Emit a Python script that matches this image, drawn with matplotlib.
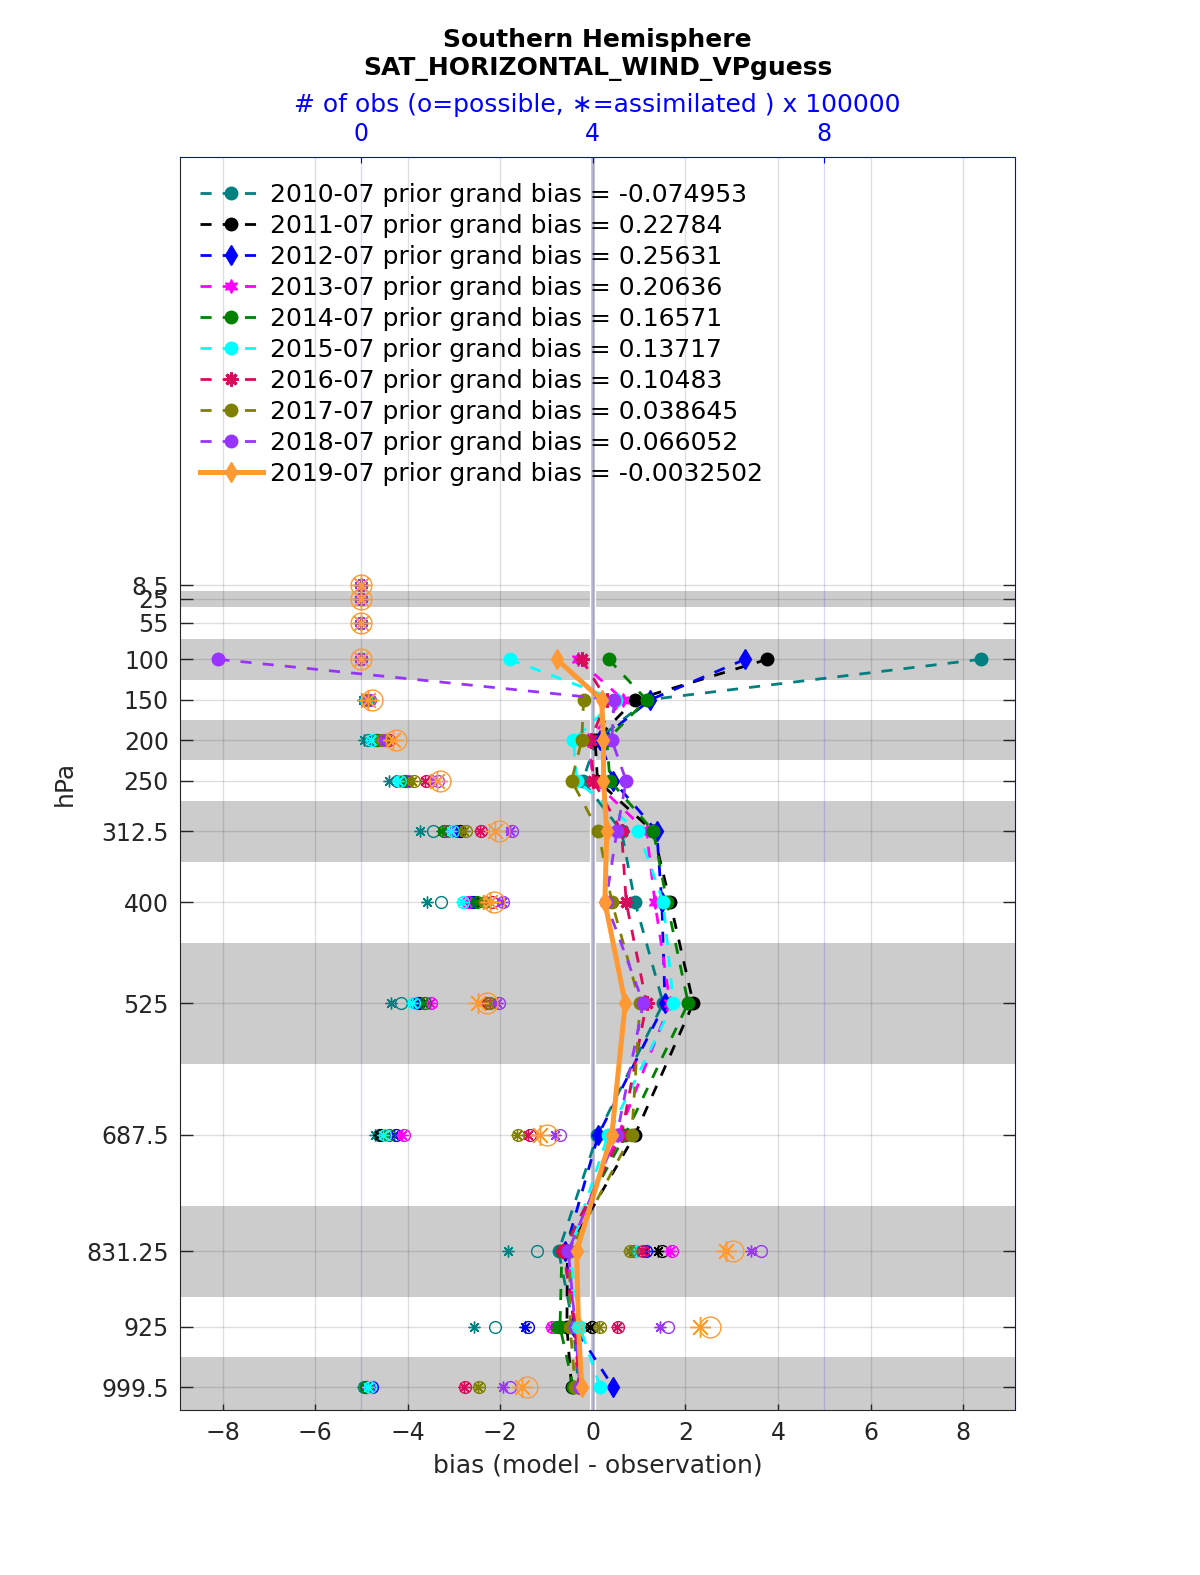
"""
Profile of prior bias (model - observation) for satellite horizontal winds,
Southern Hemisphere, July 2010-2019.  Bottom axis = bias, top axis = obs count.
"""
import numpy as np
import matplotlib
matplotlib.use("Agg")
import matplotlib.pyplot as plt

nan = np.nan

# pressure levels (hPa) and layer edges used for the shading
LEVELS = [8.5, 25, 55, 100, 150, 200, 250, 312.5, 400, 525, 687.5, 831.25, 925, 999.5]
EDGES = [2, 15, 35, 75, 125, 175, 225, 275, 350, 450, 600, 775, 887.5, 962.5, 1036.5]

YEARS = ["2010-07", "2011-07", "2012-07", "2013-07", "2014-07",
         "2015-07", "2016-07", "2017-07", "2018-07", "2019-07"]
GRAND = ["-0.074953", "0.22784", "0.25631", "0.20636", "0.16571",
         "0.13717", "0.10483", "0.038645", "0.066052", "-0.0032502"]

# mean bias per level
bias_2010 = [nan, nan, nan, 8.38, 1.20, 0.08, -0.22, 0.62, 0.91, 1.52, 0.10, -0.74, -0.42, -0.31]
bias_2011 = [nan, nan, nan, 3.77, 0.91, 0.05, 0.10, 1.30, 1.67, 2.17, 0.91, -0.55, -0.56, -0.46]
bias_2012 = [nan, nan, nan, 3.29, 1.24, 0.15, 0.44, 1.38, 1.49, 1.56, 0.12, -0.60, -0.40, 0.44]
bias_2013 = [nan, nan, nan, -0.33, 0.66, -0.10, 0.01, 1.16, 1.34, 1.67, 0.55, -0.55, -0.38, -0.30]
bias_2014 = [nan, nan, nan, 0.34, 1.16, 0.30, 0.37, 1.31, 1.60, 2.06, 0.70, -0.67, -0.71, -0.42]
bias_2015 = [nan, nan, nan, -1.80, 0.50, -0.42, -0.35, 0.98, 1.52, 1.74, 0.33, -0.50, -0.28, 0.16]
bias_2016 = [nan, nan, nan, -0.24, 0.30, -0.05, 0.01, 0.62, 0.72, 1.16, 0.62, -0.64, -0.38, -0.30]
bias_2017 = [nan, nan, nan, nan, -0.20, -0.24, -0.46, 0.12, 0.41, 1.02, 0.84, -0.50, -0.49, -0.38]
bias_2018 = [nan, nan, nan, -8.09, 0.46, 0.41, 0.72, 0.52, 0.28, 1.09, 0.52, -0.53, -0.38, -0.28]
bias_2019 = [nan, nan, nan, -0.78, 0.19, 0.23, 0.23, 0.30, 0.26, 0.70, 0.41, -0.35, -0.31, -0.24]

# number of obs (x 100000): possible / assimilated
poss_2010 = [0, 0, 0, 0, .06, .12, .62, 1.23, 1.37, .68, .30, 3.03, 2.31, .05]
asim_2010 = [0, 0, 0, 0, .02, .05, .48, 1.01, 1.13, .51, .24, 2.54, 1.95, .03]
poss_2011 = [0, 0, 0, 0, .08, .25, .78, 1.70, 1.95, 1.00, .34, 5.19, 3.98, .10]
asim_2011 = [0, 0, 0, 0, .06, .22, .76, 1.68, 1.93, .98, .30, 5.13, 3.95, .08]
poss_2012 = [0, 0, 0, 0, .09, .22, .75, 1.62, 1.90, .95, .60, 4.92, 2.88, .18]
asim_2012 = [0, 0, 0, 0, .07, .20, .72, 1.60, 1.88, .93, .57, 4.90, 2.83, .16]
poss_2013 = [0, 0, 0, 0, .10, .30, .80, 1.50, 1.85, 1.20, .73, 5.36, 3.29, .12]
asim_2013 = [0, 0, 0, 0, .08, .28, .78, 1.48, 1.83, 1.18, .70, 5.33, 3.27, .10]
poss_2014 = [0, 0, 0, 0, .10, .28, .72, 1.42, 2.00, 1.10, .48, 4.72, 3.38, .08]
asim_2014 = [0, 0, 0, 0, .08, .26, .70, 1.40, 1.98, 1.07, .45, 4.69, 3.36, .06]
poss_2015 = [0, 0, 0, 0, .08, .18, .66, 1.58, 1.76, .90, .40, 4.76, 3.75, .15]
asim_2015 = [0, 0, 0, 0, .06, .16, .64, 1.55, 1.73, .87, .37, 4.74, 3.72, .12]
poss_2016 = [0, 0, 0, 0, .12, .47, 1.12, 2.07, 2.25, 2.18, 2.91, 4.87, 4.44, 1.79]
asim_2016 = [0, 0, 0, 0, .10, .45, 1.10, 2.05, 2.23, 2.16, 2.88, 4.85, 4.42, 1.77]
poss_2017 = [0, 0, 0, 0, .12, .35, .90, 1.80, 2.14, 2.22, 2.71, 4.64, 4.12, 2.04]
asim_2017 = [0, 0, 0, 0, .10, .33, .88, 1.78, 2.12, 2.20, 2.69, 4.62, 4.10, 2.02]
poss_2018 = [0, 0, 0, 0, .14, .41, 1.33, 2.61, 2.45, 2.37, 3.43, 6.90, 5.30, 2.56]
asim_2018 = [0, 0, 0, 0, .12, .39, 1.24, 2.56, 2.43, 2.35, 3.35, 6.74, 5.16, 2.45]
poss_2019 = [0, 0, 0, 0, .18, .60, 1.36, 2.37, 2.30, 2.17, 3.20, 6.43, 6.02, 2.86]
asim_2019 = [0, 0, 0, 0, .12, .55, 1.30, 2.31, 2.22, 2.02, 3.09, 6.31, 5.85, 2.77]

BIAS = [bias_2010, bias_2011, bias_2012, bias_2013, bias_2014,
        bias_2015, bias_2016, bias_2017, bias_2018, bias_2019]
POSS = [poss_2010, poss_2011, poss_2012, poss_2013, poss_2014,
        poss_2015, poss_2016, poss_2017, poss_2018, poss_2019]
ASIM = [asim_2010, asim_2011, asim_2012, asim_2013, asim_2014,
        asim_2015, asim_2016, asim_2017, asim_2018, asim_2019]

COLORS = ["#008080", "#000000", "#0000ff", "#ff00ff", "#008000",
          "#00ffff", "#dc0a5a", "#808000", "#9933ff", "#ff9933"]
MARKERS = ["o", "o", "d", (6, 1, 0), "o", "o", (8, 2, 0), "o", "o", "d"]

XLIM = (-8.92, 9.12)
YLIM = (1027.6, -520.7)
FS = 18        # labels, legend, title
FS_TICK = 17
TXT = "#262626"
ASTER = (8, 2, 0)


def bias_to_obs(b):
    return (b + 5.0) * 0.8


def main():
    plt.rcParams["font.family"] = ["DejaVu Sans"]
    fig = plt.figure(figsize=(12, 15.75), dpi=100)
    ax = fig.add_axes([0.15, 0.1048, 0.6958, 0.7955])

    # alternating layer shading
    for k in range(1, len(LEVELS), 2):
        ax.axhspan(EDGES[k], EDGES[k + 1], color="#cccccc", lw=0, zorder=0)

    ax.set_xlim(*XLIM)
    ax.set_ylim(*YLIM)
    ax.set_axisbelow(True)
    ax.grid(True, color=TXT, alpha=0.15, lw=1)
    ax.set_xticks(np.arange(-8, 9, 2))
    ax.set_yticks(LEVELS)
    ax.set_yticklabels([f"{v:g}" for v in LEVELS])
    ax.tick_params(axis="y", direction="in", length=9, width=1, right=True,
                   labelsize=FS_TICK, colors=TXT, pad=8)
    ax.tick_params(axis="x", direction="in", length=4.5, width=1,
                   labelsize=FS_TICK, colors=TXT, pad=8)
    for s in ["left", "bottom"]:
        ax.spines[s].set_color(TXT)
    for s in ["top", "right"]:
        ax.spines[s].set_visible(False)
    ax.set_xlabel("bias (model - observation)", fontsize=FS, color=TXT, labelpad=6)
    ax.set_ylabel("hPa", fontsize=FS, color=TXT, labelpad=7)

    # zero line
    ax.axvline(0, color="#ffffff", lw=4.5, zorder=1)
    ax.axvline(0, color="#bcbccc", lw=2.6, zorder=1.1)

    handles = []
    for i in range(len(YEARS)):
        last = i == len(YEARS) - 1
        ms = 9 if MARKERS[i] == "o" else 10
        ln, = ax.plot(BIAS[i], LEVELS, color=COLORS[i],
                      ls="-" if last else (0, (4, 4)),
                      lw=3.6 if last else 2.0,
                      marker=MARKERS[i], ms=ms, mfc=COLORS[i], mec=COLORS[i],
                      mew=2.2 if MARKERS[i] == (8, 2, 0) else 1,
                      zorder=3 + i,
                      label=f"{YEARS[i]} prior grand bias = {GRAND[i]}")
        handles.append(ln)

    leg = ax.legend(handles=handles, loc="upper left", bbox_to_anchor=(0.012, 0.9872),
                    frameon=False, fontsize=FS, handlelength=2.5,
                    handletextpad=0.3, labelspacing=0.28, borderaxespad=0.0)
    for t in leg.get_texts():
        t.set_color("black")

    # obs counts on the top axis
    top = ax.twiny()
    top.set_xlim(bias_to_obs(XLIM[0]), bias_to_obs(XLIM[1]))
    top.set_ylim(*YLIM)
    top.set_xticks([0, 4, 8])
    top.tick_params(axis="x", direction="in", length=4.5, colors="blue",
                    labelsize=FS_TICK, pad=8)
    top.grid(True, axis="x", color="blue", alpha=0.15, lw=1)
    for s in ["left", "bottom"]:
        top.spines[s].set_visible(False)
    for s in ["top", "right"]:
        top.spines[s].set_color("blue")
    top.set_xlabel("# of obs (o=possible, \u2217=assimilated ) x 100000",
                   color="blue", fontsize=FS, labelpad=7)

    for i in range(len(YEARS)):
        big = i == len(YEARS) - 1
        ms = 15 if big else 8.5
        top.plot(POSS[i], LEVELS, ls="none", marker="o", ms=ms, mfc="none",
                 mec=COLORS[i], mew=1, zorder=2)
        top.plot(ASIM[i], LEVELS, ls="none", marker=ASTER, ms=ms,
                 mec=COLORS[i], mew=1, zorder=2)

    fig.text(0.4979, 1 - 40 / 1575, "Southern Hemisphere", ha="center", va="center",
             fontsize=FS, fontweight="bold")
    fig.text(0.4979, 1 - 69 / 1575, "SAT_HORIZONTAL_WIND_VPguess", ha="center",
             va="center", fontsize=FS, fontweight="bold")

    fig.savefig("out.png", dpi=100)


if __name__ == "__main__":
    main()
